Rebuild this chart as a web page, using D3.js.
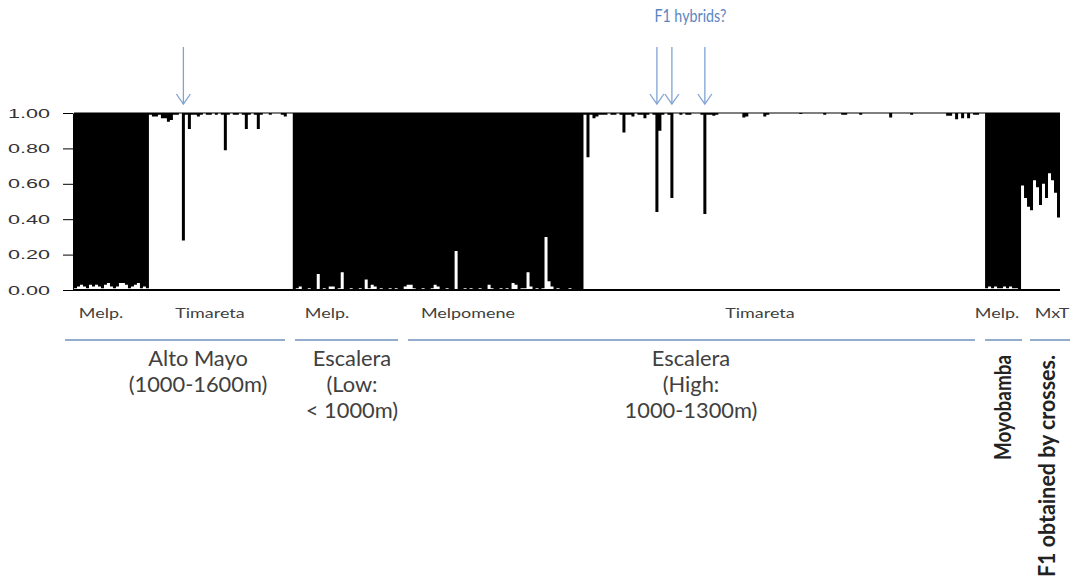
<!DOCTYPE html>
<html>
<head>
<meta charset="utf-8">
<script src="https://cdn.jsdelivr.net/npm/d3@7"></script>
<style>
    body { margin: 0; background: #fff; }
    svg { display: block; }
</style>
</head>
<body>
<div id="chart"></div>
<script>
// Timareta ancestry per individual (white part, from 0 up); black fills the rest up to 1.00
const altoMayoMelp = [0.01, 0.02, 0.03, 0.02, 0.01, 0.03, 0.02, 0.03, 0.02, 0.01, 0.03, 0.04, 0.02, 0.01, 0.02,
    0.04, 0.04, 0.03, 0.01, 0.02, 0.03, 0.04, 0.01, 0.02, 0.01];
const altoMayoTim = [0.99, 0.98, 0.98, 0.99, 0.97, 0.97, 0.95, 0.96, 0.99, 0.99, 1.00, 0.28, 0.99, 0.91, 0.99, 0.99,
    0.98, 0.99, 1.00, 0.99, 0.99, 1.00, 0.99, 1.00, 0.99, 0.79, 0.99, 1.00, 0.99, 0.99, 1.00, 0.99,
    0.91, 0.99, 1.00, 0.99, 0.91, 0.99, 1.00, 1.00, 0.99, 1.00, 1.00, 1.00, 0.99, 0.98, 1.00, 1.00];
const escaleraLowMelp = [0.00, 0.01, 0.02, 0.00, 0.00, 0.01, 0.00, 0.00, 0.09, 0.00,
    0.01, 0.00, 0.02, 0.02, 0.00, 0.01, 0.10, 0.00, 0.00, 0.01,
    0.00, 0.00, 0.01, 0.00, 0.06, 0.01, 0.03, 0.02, 0.00, 0.01,
    0.00, 0.00, 0.01, 0.00, 0.01, 0.00, 0.00];
const escaleraHighMelp = [0.02, 0.03, 0.03, 0.01, 0.00, 0.00, 0.01, 0.00, 0.00, 0.01,
    0.03, 0.02, 0.00, 0.00, 0.01, 0.00, 0.00, 0.22, 0.00, 0.00,
    0.01, 0.00, 0.01, 0.00, 0.00, 0.01, 0.00, 0.00, 0.03, 0.01,
    0.00, 0.00, 0.01, 0.00, 0.01, 0.00, 0.04, 0.03, 0.00, 0.01,
    0.01, 0.10, 0.02, 0.00, 0.01, 0.00, 0.01, 0.30, 0.05, 0.02,
    0.00, 0.01, 0.00, 0.00, 0.00, 0.01, 0.00, 0.00, 0.00, 0.00];
const escaleraHighTim = [0.99, 0.75, 0.99, 0.97, 0.98, 0.99, 0.99, 0.99, 1.00, 0.99,
    0.99, 1.00, 0.99, 0.89, 0.99, 0.99, 0.98, 1.00, 0.99, 0.99,
    0.97, 0.99, 1.00, 0.99, 0.44, 0.90, 0.99, 1.00, 0.99, 0.52,
    1.00, 1.00, 0.99, 1.00, 0.99, 0.99, 1.00, 1.00, 1.00, 0.99,
    0.43, 0.99, 0.99, 0.985, 0.99, 1.00, 1.00, 1.00, 1.00, 1.00,
    1.00, 1.00, 1.00, 0.975, 0.98, 1.00, 1.00, 1.00, 1.00, 1.00,
    0.98, 0.99, 1.00, 1.00, 1.00, 1.00, 1.00, 1.00, 1.00, 1.00,
    1.00, 1.00, 0.995, 1.00, 1.00, 1.00, 1.00, 1.00, 1.00, 1.00,
    0.99, 1.00, 1.00, 1.00, 1.00, 1.00, 0.99, 0.99, 1.00, 1.00,
    1.00, 1.00, 0.99, 1.00, 1.00, 1.00, 1.00, 1.00, 1.00, 1.00,
    1.00, 1.00, 0.975, 1.00, 1.00, 1.00, 1.00, 1.00, 1.00, 0.99,
    1.00, 1.00, 1.00, 1.00, 1.00, 1.00, 1.00, 1.00, 1.00, 1.00,
    1.00, 0.985, 0.985, 1.00, 0.965, 1.00, 0.97, 1.00, 0.97, 1.00,
    0.99, 0.99, 1.00, 1.00];
const moyobambaMelp = [0.01, 0.02, 0.01, 0.02, 0.01, 0.01, 0.02, 0.01, 0.02, 0.01, 0.01, 0.00];
const crossesMxT = [0.59, 0.52, 0.47, 0.45, 0.62, 0.58, 0.48, 0.60, 0.52, 0.66, 0.62, 0.55, 0.41];

const sampleGroups = [altoMayoMelp, altoMayoTim, escaleraLowMelp, escaleraHighMelp,
    escaleraHighTim, moyobambaMelp, crossesMxT];
const sampleLabels = ['Melp.', 'Timareta', 'Melp.', 'Melpomene', 'Timareta', 'Melp.', 'MxT'];
const yTicks = [0.00, 0.20, 0.40, 0.60, 0.80, 1.00];
const regionLabels = [['Alto Mayo', '(1000-1600m)'], ['Escalera', '(Low:', '< 1000m)'],
    ['Escalera', '(High:', '1000-1300m)']];
const verticalLabels = ['Moyobamba', 'F1 obtained by crosses.'];
const hybridNote = 'F1 hybrids?';
// arrows point at [group, individual]
const arrowTargets = [[1, 11], [4, 24], [4, 29], [4, 40]];

// layout
const width = 1070, height = 585;
const plot = { left: 74, right: 1060, top: 113, bottom: 290 };
const sampleLabelX = [101, 210, 327, 468, 760, 997, 1052];
const sampleLabelY = 318;
const lineY = 340;
const regionLines = [[65, 285], [295, 398], [408, 975], [985, 1022], [1030, 1070]];
const regionX = [198, 352, 691];
const regionY = [366, 392, 418];
const verticalX = [1011, 1055];
const verticalLength = [105, 222];
const verticalTop = 355;
const blueText = '#5a86c0', blueArrow = '#7fa3d3', blueLine = '#6f93bd', greyText = '#404040';

const individuals = [];
sampleGroups.forEach((vals, g) => vals.forEach((v, i) => individuals.push({ g: g, i: i, q: v })));
const N = individuals.length;

const svg = d3.select('#chart').append('svg')
    .attr('width', width)
    .attr('height', height)
    .style('background', '#fff');

const xScale = d3.scaleBand()
    .domain(d3.range(N))
    .range([plot.left, plot.right])
    .paddingInner(0);
const yScale = d3.scaleLinear()
    .domain([0, 1])
    .range([plot.bottom, plot.top]);

const indexOf = (g, i) => individuals.findIndex(d => d.g === g && d.i === i);

// bars as one stepped area: black from each ancestry value up to 1.00 (no seams between bars)
const stepData = individuals.concat([individuals[N - 1]]);
const barArea = d3.area()
    .x((d, k) => (k < N ? xScale(k) : plot.right))
    .y0(yScale(1))
    .y1(d => yScale(d.q))
    .curve(d3.curveStepAfter);
svg.append('path')
    .datum(stepData)
    .attr('d', barArea)
    .attr('fill', '#000');

// top frame line at 1.00 and thick base at 0.00
svg.append('line')
    .attr('x1', plot.left).attr('x2', plot.right)
    .attr('y1', yScale(1)).attr('y2', yScale(1))
    .attr('stroke', '#000').attr('stroke-width', 1.2);
svg.append('line')
    .attr('x1', plot.left - 1).attr('x2', plot.right)
    .attr('y1', yScale(0)).attr('y2', yScale(0))
    .attr('stroke', '#000').attr('stroke-width', 2);

// y axis
const yAxis = svg.append('g')
    .attr('transform', `translate(${plot.left - 1},0)`)
    .call(d3.axisLeft(yScale).tickValues(yTicks).tickFormat(d3.format('.2f'))
        .tickSize(10).tickSizeOuter(0).tickPadding(13));
yAxis.select('.domain').attr('stroke', '#000');
yAxis.selectAll('.tick line').attr('stroke', '#000');
yAxis.selectAll('.tick text')
    .attr('font-family', 'Liberation Sans, Arial, sans-serif')
    .attr('font-size', 12.5)
    .attr('fill', '#333')
    .attr('textLength', 42)
    .attr('lengthAdjust', 'spacingAndGlyphs');

// stretched horizontal text helper
function stretchText(sel, factor) {
    sel.each(function () {
        const w = this.getComputedTextLength();
        d3.select(this).attr('textLength', w * factor).attr('lengthAdjust', 'spacingAndGlyphs');
    });
}

// sample labels under the plot
svg.append('g')
    .selectAll('text')
    .data(sampleLabels)
    .join('text')
    .attr('x', (d, k) => sampleLabelX[k])
    .attr('y', sampleLabelY)
    .attr('text-anchor', 'middle')
    .attr('font-family', 'Lato, sans-serif')
    .attr('font-size', 13)
    .attr('fill', greyText)
    .text(d => d)
    .call(stretchText, 1.38);

// blue underline segments
svg.append('g')
    .selectAll('line')
    .data(regionLines)
    .join('line')
    .attr('x1', d => d[0]).attr('x2', d => d[1])
    .attr('y1', lineY).attr('y2', lineY)
    .attr('stroke', blueLine).attr('stroke-width', 1.5);

// region names
regionLabels.forEach((lines, r) => {
    svg.append('g')
        .selectAll('text')
        .data(lines)
        .join('text')
        .attr('x', regionX[r])
        .attr('y', (d, k) => regionY[k])
        .attr('text-anchor', 'middle')
        .attr('font-family', 'Lato, sans-serif')
        .attr('font-size', 21)
        .attr('fill', greyText)
        .text(d => d)
        .call(stretchText, 1.04);
});

// vertical labels
svg.append('g')
    .selectAll('text')
    .data(verticalLabels)
    .join('text')
    .attr('transform', (d, k) => `translate(${verticalX[k]},${verticalTop}) scale(1.2,1) rotate(-90)`)
    .attr('text-anchor', 'end')
    .attr('font-family', 'Lato, sans-serif')
    .attr('font-weight', 'bold')
    .attr('font-size', 19)
    .attr('fill', '#222')
    .attr('textLength', (d, k) => verticalLength[k])
    .attr('lengthAdjust', 'spacingAndGlyphs')
    .text(d => d);

// arrows
const arrowTop = 47, arrowTip = 104;
const arrows = svg.append('g')
    .selectAll('g')
    .data(arrowTargets)
    .join('g')
    .attr('transform', d => {
        const k = indexOf(d[0], d[1]);
        return `translate(${xScale(k) + xScale.bandwidth() / 2},0)`;
    });
arrows.append('line')
    .attr('x1', 0).attr('x2', 0)
    .attr('y1', arrowTop).attr('y2', arrowTip)
    .attr('stroke', blueArrow).attr('stroke-width', 1.3);
arrows.append('path')
    .attr('d', `M-7,${arrowTip - 10}L0,${arrowTip}L7,${arrowTip - 10}`)
    .attr('fill', 'none')
    .attr('stroke', blueArrow).attr('stroke-width', 1.3);

// note above the F1 arrows
const firstF1 = indexOf(arrowTargets[1][0], arrowTargets[1][1]);
svg.append('text')
    .attr('x', xScale(firstF1) - 1)
    .attr('y', 22)
    .attr('text-anchor', 'start')
    .attr('font-family', 'Lato, sans-serif')
    .attr('font-size', 16.5)
    .attr('fill', blueText)
    .attr('textLength', 72)
    .attr('lengthAdjust', 'spacingAndGlyphs')
    .text(hybridNote);
</script>
</body>
</html>
